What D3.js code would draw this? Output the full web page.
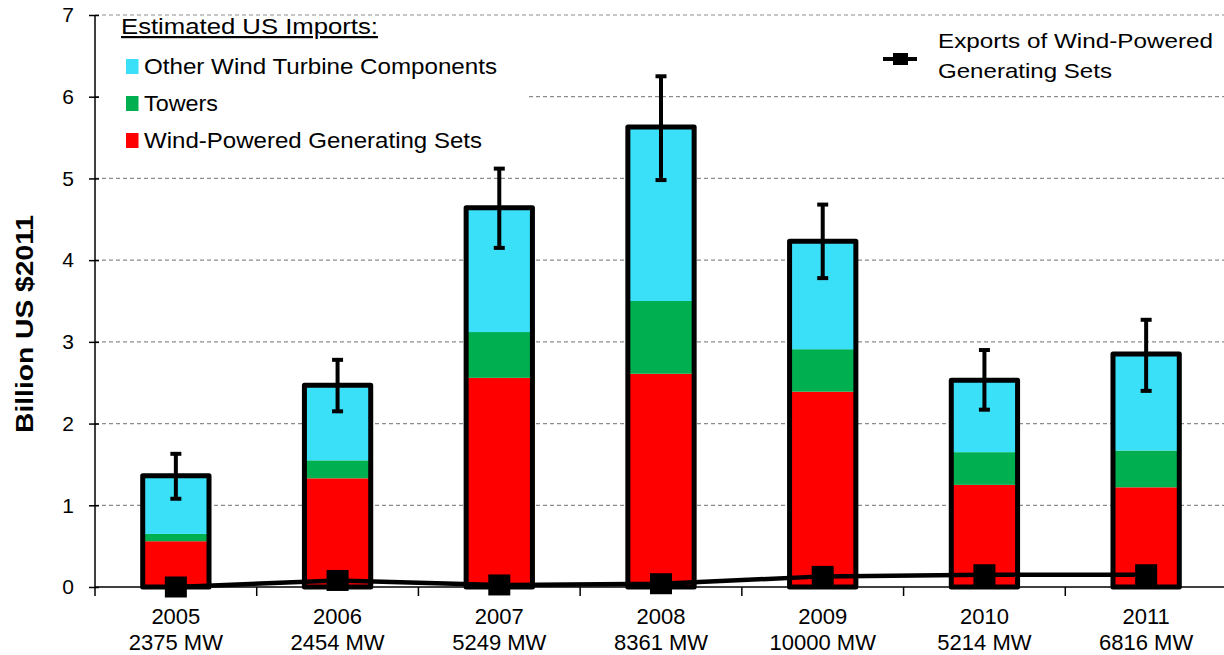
<!DOCTYPE html>
<html>
<head>
<meta charset="utf-8">
<script src="https://cdn.jsdelivr.net/npm/d3@7"></script>
<style>
  body { margin: 0; background: #fff; }
  text { font-family: "Liberation Sans", Arial, sans-serif; fill: #000; }
</style>
</head>
<body>
<div id="chart"></div>
<script>
// Data
var years = ["2005", "2006", "2007", "2008", "2009", "2010", "2011"];
var capacity = ["2375 MW", "2454 MW", "5249 MW", "8361 MW", "10000 MW", "5214 MW", "6816 MW"];
var generatingSets = [0.56, 1.33, 2.56, 2.61, 2.39, 1.25, 1.22];
var towers = [0.09, 0.22, 0.56, 0.89, 0.52, 0.40, 0.45];
var otherParts = [0.71, 0.92, 1.52, 2.13, 1.32, 0.88, 1.18];
var errLow = [1.08, 2.15, 4.15, 4.98, 3.78, 2.17, 2.40];
var errHigh = [1.63, 2.78, 5.12, 6.25, 4.68, 2.90, 3.27];
var exportsSets = [0.0, 0.08, 0.025, 0.04, 0.13, 0.15, 0.15];
var yTicks = [0, 1, 2, 3, 4, 5, 6, 7];

var seriesNames = ["Wind-Powered Generating Sets", "Towers", "Other Wind Turbine Components"];
var colors = ["#ff0000", "#00b050", "#3adff8"];
// widths of the legend texts in the reference (it is drawn a bit stretched)
var legendWidths = [338, 74, 353];

var svgWidth = 1224;
var svgHeight = 655;
var margin = { top: 15, right: -3, bottom: 68, left: 95 };
var width = svgWidth - margin.left - margin.right;
var height = svgHeight - margin.top - margin.bottom;

var svg = d3.select("#chart")
  .append("svg")
  .attr("width", svgWidth)
  .attr("height", svgHeight);

var chartGroup = svg.append("g")
  .attr("transform", `translate(${margin.left}, ${margin.top})`);

// scales
var xScale = d3.scaleBand()
  .domain(years)
  .range([0, width])
  .paddingInner(0.59)
  .paddingOuter(0.295);

var yScale = d3.scaleLinear()
  .domain([0, 7])
  .range([height, 0]);

// stacked table
var table = years.map(function(y, i) {
  return { year: y, sets: generatingSets[i], towers: towers[i], other: otherParts[i] };
});
var stacked = d3.stack().keys(["sets", "towers", "other"])(table);

// gridlines
chartGroup.selectAll(".grid")
  .data(yTicks.slice(1))
  .enter()
  .append("line")
  .attr("x1", 0)
  .attr("x2", width + 10)
  .attr("y1", d => yScale(d))
  .attr("y2", d => yScale(d))
  .attr("stroke", "#8c8c8c")
  .attr("stroke-width", 1.2)
  .attr("stroke-dasharray", "4,3");

// legend background hides the gridline behind it
chartGroup.append("rect")
  .attr("x", 6)
  .attr("y", 6)
  .attr("width", 425)
  .attr("height", 140)
  .attr("fill", "#fff");

// bars
var step = xScale.step();
var layer = chartGroup.selectAll(".layer")
  .data(stacked)
  .enter()
  .append("g")
  .attr("fill", (d, i) => colors[i]);

layer.selectAll("rect")
  .data(d => d)
  .enter()
  .append("rect")
  .attr("x", d => xScale(d.data.year))
  .attr("y", d => yScale(d[1]))
  .attr("width", xScale.bandwidth())
  .attr("height", d => yScale(d[0]) - yScale(d[1]));

// bar outline
chartGroup.selectAll(".outline")
  .data(stacked[2])
  .enter()
  .append("rect")
  .attr("x", d => xScale(d.data.year))
  .attr("y", d => yScale(d[1]))
  .attr("width", xScale.bandwidth())
  .attr("height", d => yScale(0) - yScale(d[1]))
  .attr("fill", "none")
  .attr("stroke", "#000")
  .attr("stroke-width", 5)
  .attr("stroke-linejoin", "round");

// error bars
var cx = d => xScale(d) + xScale.bandwidth() / 2;
var err = chartGroup.selectAll(".err")
  .data(years)
  .enter()
  .append("g")
  .attr("stroke", "#000")
  .attr("stroke-width", 4);
err.append("line")
  .attr("x1", d => cx(d)).attr("x2", d => cx(d))
  .attr("y1", (d, i) => yScale(errLow[i]))
  .attr("y2", (d, i) => yScale(errHigh[i]));
err.append("line")
  .attr("x1", d => cx(d) - 5.5).attr("x2", d => cx(d) + 5.5)
  .attr("y1", (d, i) => yScale(errLow[i]))
  .attr("y2", (d, i) => yScale(errLow[i]));
err.append("line")
  .attr("x1", d => cx(d) - 5.5).attr("x2", d => cx(d) + 5.5)
  .attr("y1", (d, i) => yScale(errHigh[i]))
  .attr("y2", (d, i) => yScale(errHigh[i]));

// axes
var leftAxis = d3.axisLeft(yScale).tickValues(yTicks).tickSize(6).tickFormat(d3.format("d"));
var yAxisG = chartGroup.append("g").call(leftAxis);
yAxisG.select(".domain").attr("stroke-width", 1.5).attr("d", `M0,${height}V0`);
yAxisG.selectAll(".tick line").attr("x1", 4).attr("x2", -6).attr("stroke-width", 1.5);
yAxisG.selectAll(".tick text")
  .attr("x", -21)
  .style("font-size", "21px")
  .style("font-family", "Liberation Sans, Arial, sans-serif");

var xAxisG = chartGroup.append("g")
  .attr("transform", `translate(0, ${height})`);
xAxisG.append("line")
  .attr("x1", 0).attr("x2", width)
  .attr("stroke", "#000").attr("stroke-width", 1.5);
xAxisG.selectAll(".xt")
  .data(d3.range(years.length + 1))
  .enter()
  .append("line")
  .attr("x1", i => i * step).attr("x2", i => i * step)
  .attr("y1", 0).attr("y2", 9)
  .attr("stroke", "#000").attr("stroke-width", 1.5);
var xLabels = xAxisG.selectAll(".xl")
  .data(years)
  .enter()
  .append("text")
  .attr("text-anchor", "middle")
  .style("font-size", "22px");
xLabels.append("tspan")
  .attr("x", d => cx(d))
  .attr("y", 37)
  .text(d => d);
xLabels.append("tspan")
  .attr("x", d => cx(d))
  .attr("y", 63)
  .text((d, i) => capacity[i]);

// exports line
var line = d3.line()
  .x((d, i) => cx(years[i]))
  .y(d => yScale(d));
chartGroup.append("path")
  .datum(exportsSets)
  .attr("d", line)
  .attr("fill", "none")
  .attr("stroke", "#000")
  .attr("stroke-width", 4.5);
chartGroup.selectAll(".mk")
  .data(exportsSets)
  .enter()
  .append("rect")
  .attr("x", (d, i) => cx(years[i]) - 11)
  .attr("y", d => yScale(d) - 10.5)
  .attr("width", 22)
  .attr("height", 21)
  .attr("fill", "#000");

// y title
svg.append("text")
  .attr("transform", "translate(33, 324) rotate(-90)")
  .attr("text-anchor", "middle")
  .attr("textLength", 218)
  .attr("lengthAdjust", "spacingAndGlyphs")
  .style("font-size", "24px")
  .style("font-weight", "bold")
  .text("Billion US $2011");

// legend
var legend = svg.append("g");
legend.append("text")
  .attr("x", 121)
  .attr("y", 34)
  .attr("textLength", 257)
  .attr("lengthAdjust", "spacingAndGlyphs")
  .style("font-size", "22px")
  .style("text-decoration", "underline")
  .text("Estimated US Imports:");
var legOrder = [2, 1, 0];
legOrder.forEach(function(k, j) {
  var base = 74 + j * 37;
  legend.append("rect")
    .attr("x", 126).attr("y", base - 15)
    .attr("width", 12.5).attr("height", 15)
    .attr("fill", colors[k]);
  legend.append("text")
    .attr("x", 144).attr("y", base)
    .attr("textLength", legendWidths[k])
    .attr("lengthAdjust", "spacingAndGlyphs")
    .style("font-size", "22px")
    .text(seriesNames[k]);
});

legend.append("line")
  .attr("x1", 883).attr("x2", 917)
  .attr("y1", 59).attr("y2", 59)
  .attr("stroke", "#000").attr("stroke-width", 4);
legend.append("rect")
  .attr("x", 893).attr("y", 53)
  .attr("width", 15).attr("height", 12)
  .attr("fill", "#000");
legend.append("text")
  .attr("x", 938).attr("y", 48)
  .attr("textLength", 275)
  .attr("lengthAdjust", "spacingAndGlyphs")
  .style("font-size", "21px")
  .text("Exports of Wind-Powered");
legend.append("text")
  .attr("x", 938).attr("y", 78)
  .attr("textLength", 174)
  .attr("lengthAdjust", "spacingAndGlyphs")
  .style("font-size", "21px")
  .text("Generating Sets");
</script>
</body>
</html>
